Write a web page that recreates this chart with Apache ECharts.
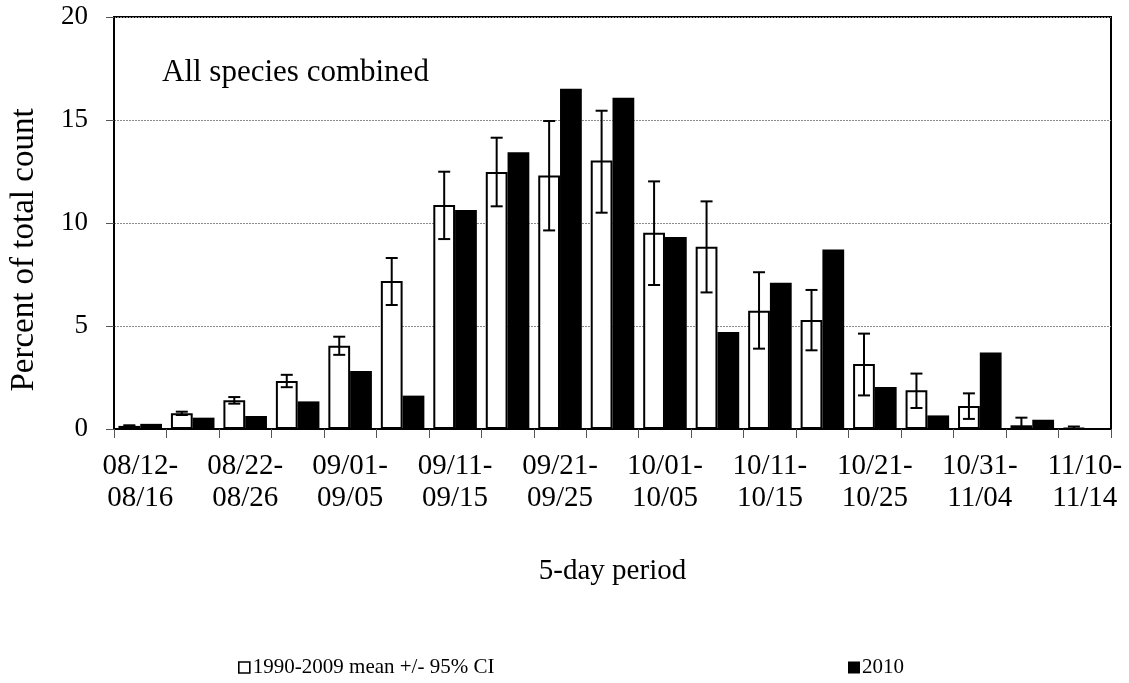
<!DOCTYPE html>
<html>
<head>
<meta charset="utf-8">
<script src="https://cdn.jsdelivr.net/npm/echarts@6/dist/echarts.min.js"></script>
<style>
  html, body { margin: 0; padding: 0; background: #fff; }
  #chart { width: 1129px; height: 683px; }
</style>
</head>
<body>
<div id="chart"></div>
<script>
// 5-day periods, mid-August to mid-November
const periods = [
  '08/12-\n08/16', '08/17-\n08/21', '08/22-\n08/26', '08/27-\n08/31',
  '09/01-\n09/05', '09/06-\n09/10', '09/11-\n09/15', '09/16-\n09/20',
  '09/21-\n09/25', '09/26-\n09/30', '10/01-\n10/05', '10/06-\n10/10',
  '10/11-\n10/15', '10/16-\n10/20', '10/21-\n10/25', '10/26-\n10/30',
  '10/31-\n11/04', '11/05-\n11/09', '11/10-\n11/14'
];

// 1990-2009 mean percent of total count, with 95% CI bounds
const meanPct = [0.15, 0.76, 1.39, 2.33, 4.04, 7.18, 10.87, 12.48, 12.30, 13.03,
                 9.53, 8.85, 5.74, 5.29, 3.16, 1.88, 1.12, 0.18, 0.04];
const ciLow   = [0.12, 0.68, 1.23, 2.03, 3.60, 6.02, 9.22, 10.81, 9.64, 10.50,
                 6.99, 6.63, 3.90, 3.82, 1.63, 1.02, 0.49, 0.00, 0.00];
const ciHigh  = [0.18, 0.84, 1.55, 2.63, 4.48, 8.30, 12.49, 14.14, 14.95, 15.45,
                 12.02, 11.05, 7.61, 6.75, 4.63, 2.69, 1.73, 0.55, 0.12];

// 2010 percent of total count
const pct2010 = [0.25, 0.55, 0.63, 1.34, 2.82, 1.62, 10.63, 13.43, 16.52, 16.08,
                 9.32, 4.71, 7.10, 8.71, 2.04, 0.66, 3.71, 0.45, 0.03];

const yTicks = [0, 5, 10, 15, 20];

const FONT = "'Liberation Serif', 'Times New Roman', serif";
const CAT_GAP = 0.17;

const chart = echarts.init(document.getElementById('chart'));

chart.setOption({
  backgroundColor: '#fff',
  animation: false,
  textStyle: { fontFamily: FONT, color: '#000' },
  grid: {
    left: 114, right: 18, top: 17, bottom: 254,
    show: true, borderColor: '#000', borderWidth: 2, backgroundColor: 'transparent'
  },
  legend: [
    {
      data: [{ name: '1990-2009 mean +/- 95% CI', icon: 'rect' }],
      left: 233, top: 652,
      itemWidth: 11, itemHeight: 11, itemGap: 0,
      itemStyle: { color: '#fff', borderColor: '#000', borderWidth: 1.6 },
      textStyle: { fontFamily: FONT, fontSize: 21, color: '#000', padding: [0, 0, 0, -2] }
    },
    {
      data: [{ name: '2010', icon: 'rect' }],
      left: 843, top: 652,
      itemWidth: 12, itemHeight: 12, itemGap: 0,
      textStyle: { fontFamily: FONT, fontSize: 21, color: '#000', padding: [0, 0, 0, -3] }
    }
  ],
  xAxis: {
    type: 'category',
    data: periods,
    boundaryGap: true,
    name: '5-day period',
    nameLocation: 'middle',
    nameGap: 128,
    nameTextStyle: { fontFamily: FONT, fontSize: 29, color: '#000', verticalAlign: 'top' },
    axisLine: { lineStyle: { color: '#000', width: 2 } },
    axisTick: { show: true, interval: 0, length: 9, lineStyle: { color: '#555', width: 1 } },
    axisLabel: {
      interval: 1, margin: 21, fontFamily: FONT, fontSize: 29, lineHeight: 32, color: '#000'
    }
  },
  yAxis: {
    type: 'value',
    min: yTicks[0], max: yTicks[yTicks.length - 1], interval: 5,
    axisLine: { show: true, lineStyle: { color: '#000', width: 2 } },
    axisTick: { show: true, length: 8, lineStyle: { color: '#555', width: 1 } },
    axisLabel: { margin: 26, fontFamily: FONT, fontSize: 27, color: '#000' },
    splitLine: { show: true, lineStyle: { color: '#8a8a8a', width: 1, type: [2, 1] } }
  },
  graphic: [
    {
      type: 'text', left: 162, top: 57,
      style: { text: 'All species combined', fontFamily: FONT, fontSize: 31, fill: '#000' }
    },
    {
      type: 'text', x: 24, y: 250, rotation: Math.PI / 2,
      style: {
        text: 'Percent of total count', fontFamily: FONT, fontSize: 33, fill: '#000',
        align: 'center', verticalAlign: 'middle'
      }
    }
  ],
  series: [
    {
      name: '1990-2009 mean +/- 95% CI',
      type: 'bar',
      data: meanPct,
      barGap: '0%',
      barCategoryGap: (CAT_GAP * 100) + '%',
      itemStyle: { color: '#fff', borderColor: '#000', borderWidth: 2 },
      z: 2
    },
    {
      name: '2010',
      type: 'bar',
      data: pct2010,
      barGap: '0%',
      barCategoryGap: (CAT_GAP * 100) + '%',
      itemStyle: { color: '#000' },
      z: 2
    },
    {
      // 95% CI whiskers on the long-term mean bars
      name: 'ci',
      type: 'custom',
      z: 5,
      data: meanPct.map((m, i) => [i, ciLow[i], ciHigh[i]]),
      encode: { x: 0, y: [1, 2] },
      renderItem: function (params, api) {
        const i = api.value(0);
        const band = api.size([1, 0])[0];
        const bw = band * (1 - CAT_GAP) / 2;
        const lo = api.coord([i, api.value(1)]);
        const hi = api.coord([i, api.value(2)]);
        const x = lo[0] - bw / 2;
        const cap = 6;
        const st = { stroke: '#000', lineWidth: 2, fill: null };
        return {
          type: 'group',
          children: [
            { type: 'line', shape: { x1: x, y1: lo[1], x2: x, y2: hi[1] }, style: st },
            { type: 'line', shape: { x1: x - cap, y1: hi[1], x2: x + cap, y2: hi[1] }, style: st },
            { type: 'line', shape: { x1: x - cap, y1: lo[1], x2: x + cap, y2: lo[1] }, style: st }
          ]
        };
      }
    }
  ]
});
</script>
</body>
</html>
